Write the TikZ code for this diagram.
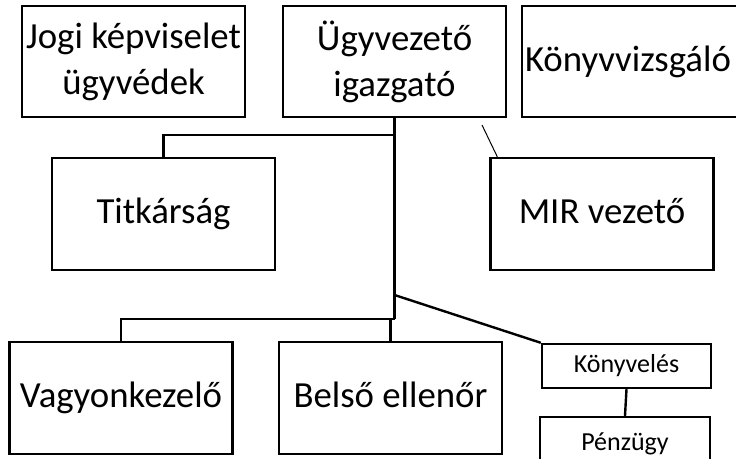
\documentclass[tikz,border=0pt]{standalone}
\usepackage{fontspec}
\setmainfont{Carlito}
\newdimen\pxu \pxu=0.75pt
\newcommand{\lrg}{\fontsize{27.6}{34.5}\selectfont}
\newcommand{\sml}{\fontsize{19.5}{23}\selectfont}

\begin{document}
\begin{tikzpicture}[x=0.75pt,y=-0.75pt,
   unit/.style={draw,line width=1.8pt,rectangle,inner sep=0pt,align=center,
      minimum width=223\pxu,minimum height=111\pxu,font=\lrg},
   subunit/.style={unit,minimum width=169\pxu,minimum height=44\pxu,font=\sml},
   conn/.style={line width=1.8pt}]
   \useasboundingbox (0,0) rectangle (736,459);
   \node[unit] (jogi) at (133.5,61.5) {Jogi képviselet\\ügyvédek};
   \node[unit] (ugyv) at (394.5,61.5) {Ügyvezető\\igazgató};
   \node[unit,minimum width=240\pxu,text width=234\pxu,align=left] (konyvv) at (642,61.5) {Könyvvizsgáló};
   \node[unit,minimum height=112\pxu] (titk) at (163.5,214) {\strut Titkárság};
   \node[unit,minimum height=112\pxu] (mir) at (602,214) {\strut MIR vezető};
   \node[unit,minimum height=112\pxu] (vagy) at (121,398) {\strut Vagyonkezelő};
   \node[unit,minimum height=112\pxu] (belso) at (390.5,398) {\strut Belső ellenőr};
   \node[subunit] (konyv) at (626.5,366) {Könyvelés};
   \node[subunit,minimum width=170\pxu,minimum height=53\pxu] (penz) at (625,443.5) {Pénzügy};
   \coordinate (tfork) at (394.5,135);
   \coordinate (split) at (394.5,295);
   \coordinate (fork) at (394.5,319);
   \draw[conn] (ugyv.south) -- (fork);
   \draw[conn] (titk.north) |- (tfork);
   \draw[conn] (vagy.north) |- (fork);
   \draw[conn] (belso.north) |- (fork);
   \draw[conn] (split) -- (konyv.north west);
   \draw[conn] (konyv.south) -- (penz.north);
   \coordinate (mirfree) at (482,125);
   \draw[line width=0.75pt] (mirfree) -- ([xshift=6pt]mir.north west);
\end{tikzpicture}
\end{document}
